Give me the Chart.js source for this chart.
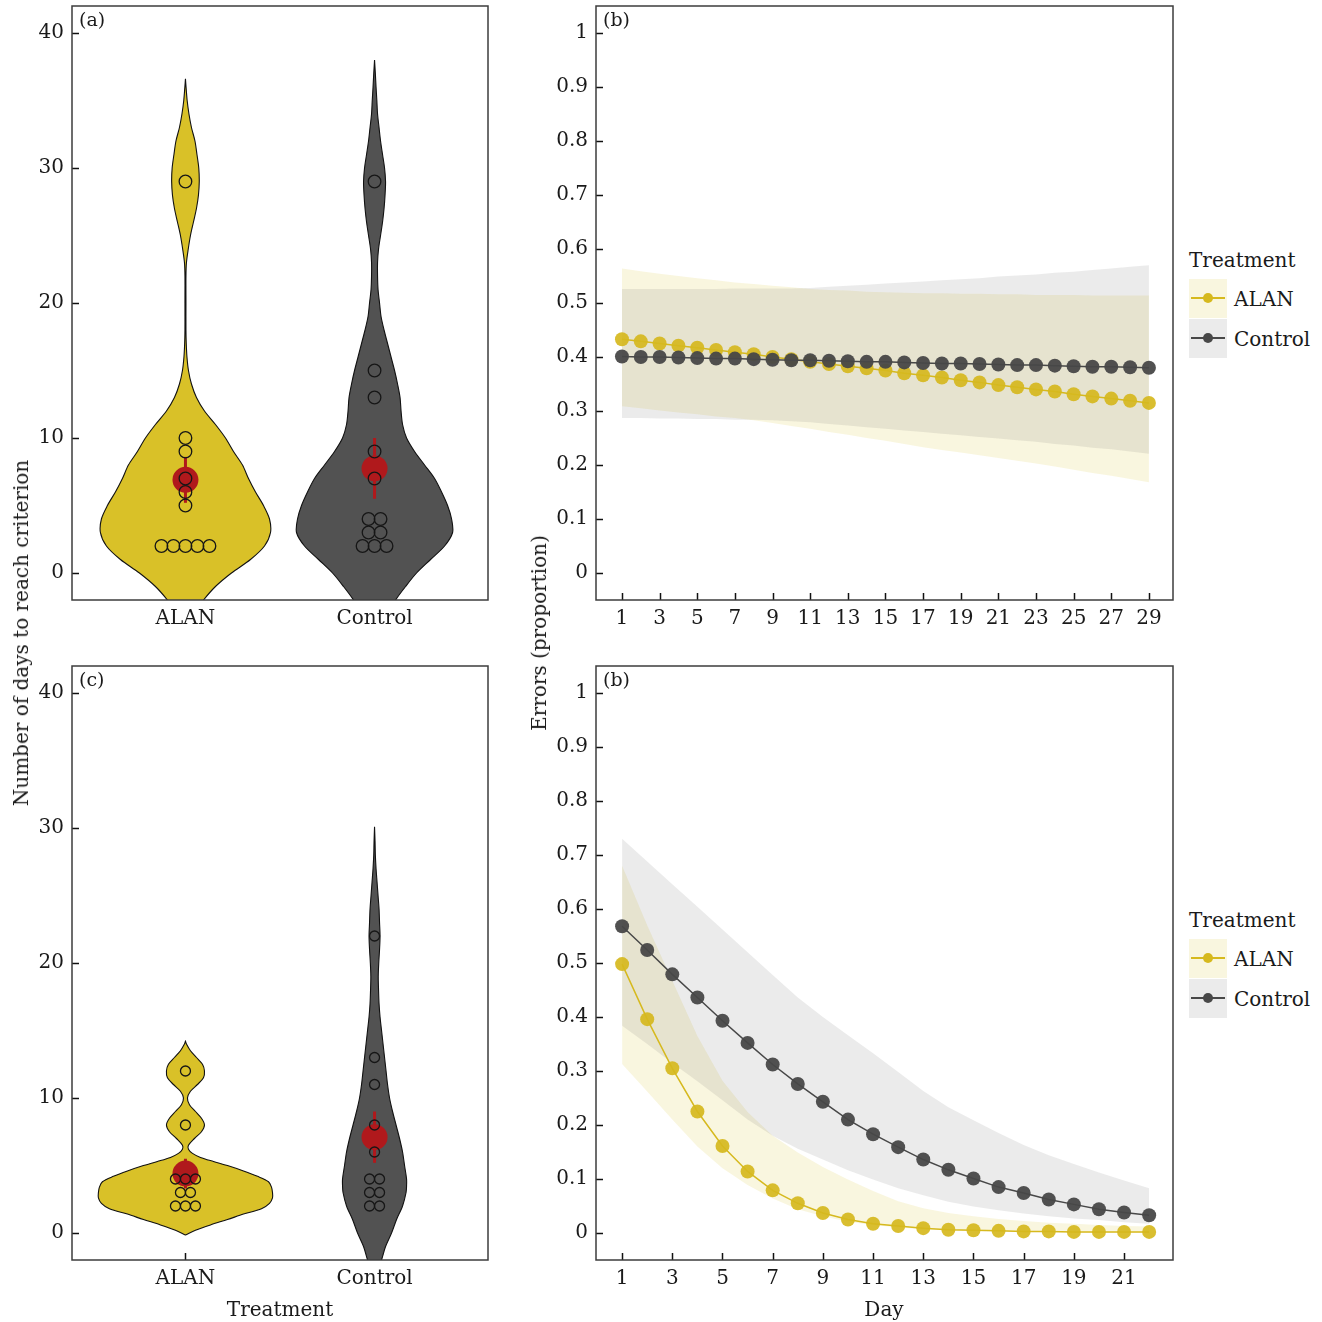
<!DOCTYPE html>
<html><head><meta charset="utf-8">
<script src="https://cdn.jsdelivr.net/npm/chart.js@4.4.1/dist/chart.umd.min.js"></script>
<style>
html,body{margin:0;padding:0;background:#fff;}
body{width:1322px;height:1322px;position:relative;overflow:hidden;font-family:'DejaVu Serif',serif;color:#1a1a1a;}
canvas{position:absolute;}
.t{position:absolute;font-size:20px;white-space:nowrap;line-height:20px;}
.rot{transform:translate(-50%,-50%) rotate(-90deg);}
.ctr{transform:translate(-50%,-50%);}
.key{position:absolute;width:38px;height:39px;}
.key .kl{position:absolute;left:2px;right:2px;top:18px;height:2px;}
.key .kp{position:absolute;left:14px;top:14px;width:10px;height:10px;border-radius:50%;}
</style></head>
<body>
<canvas id="cA" width="490" height="640" style="left:0;top:0;width:490px;height:640px"></canvas>
<canvas id="cC" width="490" height="662" style="left:0;top:660px;width:490px;height:662px"></canvas>
<canvas id="cB1" width="660" height="640" style="left:520px;top:0;width:660px;height:640px"></canvas>
<canvas id="cB2" width="660" height="662" style="left:520px;top:660px;width:660px;height:662px"></canvas>

<div class="t rot" style="left:21px;top:633px">Number of days to reach criterion</div>
<div class="t rot" style="left:539px;top:633px">Errors (proportion)</div>
<div class="t ctr" style="left:280px;top:1309px">Treatment</div>
<div class="t ctr" style="left:884px;top:1309px">Day</div>

<div class="t" style="left:1189px;top:250px">Treatment</div>
<div class="key" style="left:1189px;top:279px;background:#f9f6df"><div class="kl" style="background:#d6b91e"></div><div class="kp" style="background:#d6b91e"></div></div>
<div class="t" style="left:1234px;top:289px">ALAN</div>
<div class="key" style="left:1189px;top:319px;background:#ebebeb"><div class="kl" style="background:#484848"></div><div class="kp" style="background:#484848"></div></div>
<div class="t" style="left:1234px;top:329px">Control</div>

<div class="t" style="left:1189px;top:910px">Treatment</div>
<div class="key" style="left:1189px;top:939px;background:#f9f6df"><div class="kl" style="background:#d6b91e"></div><div class="kp" style="background:#d6b91e"></div></div>
<div class="t" style="left:1234px;top:949px">ALAN</div>
<div class="key" style="left:1189px;top:979px;background:#ebebeb"><div class="kl" style="background:#484848"></div><div class="kp" style="background:#484848"></div></div>
<div class="t" style="left:1234px;top:989px">Control</div>

<script>
// ---------------- DATA ----------------
const treatments = ['ALAN', 'Control'];
const dayTicks = [0, 10, 20, 30, 40];
const errTicks = [0, 0.1, 0.2, 0.3, 0.4, 0.5, 0.6, 0.7, 0.8, 0.9, 1];

// Panel (a): days to reach criterion (individual birds)
const daysA_ALAN = [2, 2, 2, 2, 2, 5, 6, 7, 9, 10, 29];
const daysA_Control = [2, 2, 2, 3, 3, 4, 4, 7, 9, 13, 15, 29];
const meanA = [6.9, 7.75];
const ciLowA = [5.2, 5.5];
const ciHighA = [8.6, 10.0];

// Panel (c)
const daysC_ALAN = [2, 2, 2, 3, 3, 4, 4, 4, 8, 12];
const daysC_Control = [2, 2, 3, 3, 4, 4, 6, 8, 11, 13, 22];
const meanC = [4.4, 7.1];
const ciLowC = [3.3, 5.2];
const ciHighC = [5.5, 9.0];

// Violin density profiles (relative half-width) at given day levels
const vA_ALAN_y = [-4,-3,-2,-1,0,1,2,3,4,5,6,7,8,9,10,11,12,13,14,15,16,17,18,20,22,23,24,25,26,27,28,29,30,31,32,33,34,35,36,36.6];
const vA_ALAN_d = [0,8,18,30,46,65,79,85,84,78,70,63,57,48,40,30,19,11,6,3,1.5,0.8,0.5,0.5,0.5,1,2.8,5,8,11,13,13.8,13.3,11.5,9.5,6,3.5,1.7,0.6,0];
const vA_Ctrl_y = [-4.5,-4,-3,-2,-1,0,1,2,3,4,5,6,7,8,9,10,11,12,13,14,15,16,17,18,19,20,21,22,23,24,25,26,27,28,29,30,31,32,33,34,35,36,37,38];
const vA_Ctrl_d = [0,5,13,21,31,42,56,70,78,77,73,67,60,50,40,32,28,26.5,25.5,23,20,16.5,13,9.5,6.5,5,3.5,3,3,4,6,8,9.5,10.5,11,10,8,6,4.5,3,2.3,1.5,0.8,0];
const vC_ALAN_y = [-0.15,0.2,0.6,1.0,1.4,1.8,2.2,2.6,3.0,3.4,3.8,4.2,4.6,5.0,5.3,5.6,5.9,6.2,6.5,7.0,7.5,8.0,8.5,9.0,9.5,10.0,10.5,11.0,11.5,12.0,12.5,13.0,13.5,14.0,14.2];
const vC_ALAN_d = [0,10,25,42,58,76,84,87,87,86,83,72,58,42,28,15,7,3,3,9,16,19,16,10,4,2,5,12,18,19,17,11,5,1,0];
const vC_Ctrl_y = [-3.2,-2.5,-2,-1,0,1,2,3,3.5,4,5,6,7,8,9,10,11,12,13,14,15,16,17,18,19,20,21,22,23,24,25,26,27,28,29,30.1];
const vC_Ctrl_d = [0,4,7,11,17,22,28,31.5,32,32,30,28,25,21.5,18,15,13,11.5,10,8.5,7,5.5,4.5,4,3.7,4.2,5,5.5,5,4.5,3.5,2.5,1.5,0.8,0.5,0];

// Panel (b) top: 29 days
const daysTop = [1,2,3,4,5,6,7,8,9,10,11,12,13,14,15,16,17,18,19,20,21,22,23,24,25,26,27,28,29];
const dayTickTop = [1,3,5,7,9,11,13,15,17,19,21,23,25,27,29];
const errTop_ALAN = [0.433,0.429,0.425,0.421,0.417,0.413,0.409,0.405,0.400,0.396,0.391,0.387,0.383,0.379,0.375,0.370,0.366,0.362,0.357,0.353,0.348,0.344,0.340,0.336,0.331,0.327,0.323,0.319,0.315];
const errTop_ALAN_hi = [0.564,0.559,0.554,0.550,0.546,0.542,0.538,0.535,0.532,0.529,0.526,0.524,0.523,0.521,0.520,0.519,0.518,0.518,0.517,0.517,0.516,0.516,0.515,0.515,0.515,0.514,0.514,0.514,0.514];
const errTop_ALAN_lo = [0.309,0.305,0.301,0.297,0.294,0.290,0.287,0.283,0.278,0.272,0.267,0.261,0.256,0.250,0.245,0.239,0.233,0.228,0.223,0.218,0.213,0.208,0.203,0.197,0.191,0.185,0.180,0.174,0.168];
const errTop_Ctrl = [0.401,0.400,0.400,0.399,0.398,0.397,0.397,0.396,0.395,0.394,0.394,0.393,0.392,0.391,0.391,0.390,0.389,0.388,0.388,0.387,0.386,0.385,0.385,0.384,0.383,0.382,0.382,0.381,0.380];
const errTop_Ctrl_hi = [0.526,0.526,0.526,0.526,0.526,0.526,0.527,0.527,0.527,0.527,0.528,0.530,0.532,0.534,0.536,0.538,0.540,0.542,0.544,0.546,0.549,0.551,0.553,0.556,0.558,0.561,0.564,0.567,0.570];
const errTop_Ctrl_lo = [0.287,0.287,0.286,0.286,0.285,0.285,0.284,0.284,0.283,0.281,0.279,0.276,0.273,0.270,0.267,0.264,0.261,0.258,0.255,0.252,0.249,0.246,0.243,0.239,0.236,0.232,0.229,0.225,0.221];

// Panel (b) bottom: 22 days
const daysBot = [1,2,3,4,5,6,7,8,9,10,11,12,13,14,15,16,17,18,19,20,21,22];
const dayTickBot = [1,3,5,7,9,11,13,15,17,19,21];
const errBot_ALAN = [0.498,0.396,0.305,0.225,0.161,0.114,0.079,0.055,0.037,0.025,0.017,0.013,0.009,0.006,0.005,0.004,0.003,0.003,0.002,0.002,0.002,0.002];
const errBot_ALAN_hi = [0.680,0.570,0.467,0.365,0.282,0.224,0.180,0.149,0.122,0.099,0.078,0.059,0.046,0.037,0.031,0.026,0.022,0.019,0.017,0.015,0.013,0.012];
const errBot_ALAN_lo = [0.313,0.262,0.210,0.160,0.120,0.089,0.064,0.044,0.031,0.021,0.015,0.010,0.007,0.005,0.004,0.003,0.002,0.002,0.001,0.001,0.001,0.001];
const errBot_Ctrl = [0.568,0.524,0.479,0.436,0.393,0.352,0.312,0.276,0.243,0.210,0.183,0.159,0.136,0.117,0.101,0.085,0.074,0.062,0.053,0.044,0.038,0.033];
const errBot_Ctrl_hi = [0.730,0.688,0.646,0.604,0.562,0.520,0.478,0.436,0.400,0.366,0.333,0.298,0.263,0.233,0.209,0.185,0.163,0.144,0.128,0.112,0.097,0.083];
const errBot_Ctrl_lo = [0.384,0.350,0.315,0.281,0.246,0.210,0.180,0.156,0.136,0.116,0.099,0.083,0.070,0.058,0.049,0.042,0.036,0.031,0.027,0.024,0.020,0.017];

// ---------------- STYLE ----------------
const FONT = "'DejaVu Serif', serif";
const TXT = '#1a1a1a';
const COL_ALAN = '#d6b91e', COL_CTRL = '#484848';
const VIO_ALAN = '#d9c128', VIO_CTRL = '#525252';
const RED = '#b0191c';
const BAND_ALAN = 'rgba(217,192,39,0.15)', BAND_CTRL = 'rgba(90,90,90,0.12)';
const violinScale = 1 / 189;   // density units -> axis units

Chart.defaults.font.family = FONT;
Chart.defaults.font.size = 20;
Chart.defaults.color = TXT;
Chart.defaults.animation = false;

const framePlugin = {
  id: 'frame',
  beforeDatasetsDraw(chart) {
    const {ctx, chartArea: a, scales} = chart;
    ctx.save();
    ctx.strokeStyle = '#111'; ctx.lineWidth = 1.5;
    ctx.beginPath();
    scales.y.ticks.forEach(t => { const p = Math.round(scales.y.getPixelForValue(t.value)) + 0.5; ctx.moveTo(a.left, p); ctx.lineTo(a.left + 7, p); });
    scales.x.ticks.forEach(t => { const p = Math.round(scales.x.getPixelForValue(t.value)) + 0.5; ctx.moveTo(p, a.bottom); ctx.lineTo(p, a.bottom - 7); });
    ctx.stroke();
    ctx.restore();
  },
  afterDatasetsDraw(chart, args, opts) {
    const {ctx, chartArea: a} = chart;
    ctx.save();
    ctx.strokeStyle = '#3c3c3c'; ctx.lineWidth = 1.5;
    ctx.strokeRect(a.left, a.top, a.right - a.left, a.bottom - a.top);
    ctx.fillStyle = TXT; ctx.font = '19px ' + FONT; ctx.textAlign = 'left'; ctx.textBaseline = 'top';
    ctx.fillText(opts.label || '', a.left + 7, a.top + 6);
    ctx.restore();
  }
};

function fixScale(size, isX) {
  return s => { if (isX) s.height = size; else s.width = size; s.paddingTop = 0; s.paddingBottom = 0; s.paddingLeft = 0; s.paddingRight = 0; };
}

function violinShape(center, ys, ds) {
  const left = ys.map((y, i) => ({x: center - ds[i] * violinScale, y}));
  const right = ys.map((y, i) => ({x: center + ds[i] * violinScale, y})).reverse();
  return left.concat(right);
}
function dotPositions(center, values, spacing) {
  const counts = {}, seen = {};
  values.forEach(v => counts[v] = (counts[v] || 0) + 1);
  return values.map(v => { const i = (seen[v] = (seen[v] || 0) + 1) - 1; return {x: center + (i - (counts[v] - 1) / 2) * spacing, y: v}; });
}

const gridOff = {display: false, drawTicks: false, tickLength: 0};

function violinChart(id, label, xHeight, vals, vY, vD, means, lo, hi, dotR, dotSpacing) {
  const ds = [];
  [0, 1].forEach(k => {
    const c = k + 1;
    ds.push({data: dotPositions(c, vals[k], dotSpacing), showLine: false, pointRadius: dotR, pointBackgroundColor: 'rgba(0,0,0,0)', pointBorderColor: '#161616', pointBorderWidth: 1.3, order: 0});
    ds.push({data: [{x: c, y: means[k]}], showLine: false, pointRadius: 13, pointBackgroundColor: RED, pointBorderWidth: 0, order: 1});
    ds.push({data: [{x: c, y: lo[k]}, {x: c, y: hi[k]}], borderColor: RED, borderWidth: 3, pointRadius: 0, order: 2});
    ds.push({data: violinShape(c, vY[k], vD[k]), borderColor: '#111', borderWidth: 1.1, backgroundColor: k === 0 ? VIO_ALAN : VIO_CTRL, fill: 'shape', tension: 0.3, pointRadius: 0, order: 3});
  });
  return new Chart(document.getElementById(id), {
    type: 'line',
    data: {datasets: ds},
    options: {
      responsive: false, devicePixelRatio: 1, animation: false,
      layout: {autoPadding: false, padding: {left: 0, top: 6, right: 2, bottom: 0}},
      plugins: {legend: {display: false}, tooltip: {enabled: false}, frame: {label}},
      scales: {
        x: {type: 'linear', min: 0.4, max: 2.6, grid: gridOff, border: {display: false},
            afterBuildTicks: s => { s.ticks = treatments.map((t, i) => ({value: i + 1})); },
            ticks: {padding: 7, autoSkip: false, maxRotation: 0, color: TXT, callback: v => treatments[Math.round(v) - 1]},
            afterFit: fixScale(xHeight, true)},
        y: {type: 'linear', min: -2, max: 42, grid: gridOff, border: {display: false},
            afterBuildTicks: s => { s.ticks = dayTicks.map(v => ({value: v})); },
            ticks: {padding: 8, color: TXT, callback: v => String(v)},
            afterFit: fixScale(72, false)}
      }
    },
    plugins: [framePlugin]
  });
}

violinChart('cA', '(a)', 40, [daysA_ALAN, daysA_Control], [vA_ALAN_y, vA_Ctrl_y], [vA_ALAN_d, vA_Ctrl_d], meanA, ciLowA, ciHighA, 6.3, 12 / 189);
violinChart('cC', '(c)', 62, [daysC_ALAN, daysC_Control], [vC_ALAN_y, vC_Ctrl_y], [vC_ALAN_d, vC_Ctrl_d], meanC, ciLowC, ciHighC, 5, 10 / 189);

function pts(xs, ys) { return xs.map((x, i) => ({x, y: ys[i]})); }

function errorChart(id, label, xHeight, days, ticksX, xMin, xMax, a, aHi, aLo, c, cHi, cLo) {
  return new Chart(document.getElementById(id), {
    type: 'line',
    data: {datasets: [
      {data: pts(days, c), borderColor: COL_CTRL, borderWidth: 1.5, pointRadius: 7, pointBackgroundColor: 'rgba(72,72,72,0.95)', pointBorderWidth: 0, order: 0},
      {data: pts(days, a), borderColor: COL_ALAN, borderWidth: 1.5, pointRadius: 7, pointBackgroundColor: 'rgba(214,185,30,0.92)', pointBorderWidth: 0, order: 1},
      {data: pts(days, cHi), borderWidth: 0, pointRadius: 0, fill: '+1', backgroundColor: BAND_CTRL, order: 2},
      {data: pts(days, cLo), borderWidth: 0, pointRadius: 0, fill: false, order: 3},
      {data: pts(days, aHi), borderWidth: 0, pointRadius: 0, fill: '+1', backgroundColor: BAND_ALAN, order: 4},
      {data: pts(days, aLo), borderWidth: 0, pointRadius: 0, fill: false, order: 5}
    ]},
    options: {
      responsive: false, devicePixelRatio: 1, animation: false,
      layout: {autoPadding: false, padding: {left: 0, top: 6, right: 7, bottom: 0}},
      plugins: {legend: {display: false}, tooltip: {enabled: false}, frame: {label}},
      scales: {
        x: {type: 'linear', min: xMin, max: xMax, grid: gridOff, border: {display: false},
            afterBuildTicks: s => { s.ticks = ticksX.map(v => ({value: v})); },
            ticks: {padding: 7, autoSkip: false, maxRotation: 0, color: TXT, callback: v => String(v)},
            afterFit: fixScale(xHeight, true)},
        y: {type: 'linear', min: -0.05, max: 1.05, grid: gridOff, border: {display: false},
            afterBuildTicks: s => { s.ticks = errTicks.map(v => ({value: v})); },
            ticks: {padding: 8, color: TXT, callback: v => String(Math.round(v * 10) / 10)},
            afterFit: fixScale(76, false)}
      }
    },
    plugins: [framePlugin]
  });
}

errorChart('cB1', '(b)', 40, daysTop, dayTickTop, -0.38, 30.28, errTop_ALAN, errTop_ALAN_hi, errTop_ALAN_lo, errTop_Ctrl, errTop_Ctrl_hi, errTop_Ctrl_lo);
errorChart('cB2', '(b)', 62, daysBot, dayTickBot, -0.04, 22.95, errBot_ALAN, errBot_ALAN_hi, errBot_ALAN_lo, errBot_Ctrl, errBot_Ctrl_hi, errBot_Ctrl_lo);
</script>
</body></html>
